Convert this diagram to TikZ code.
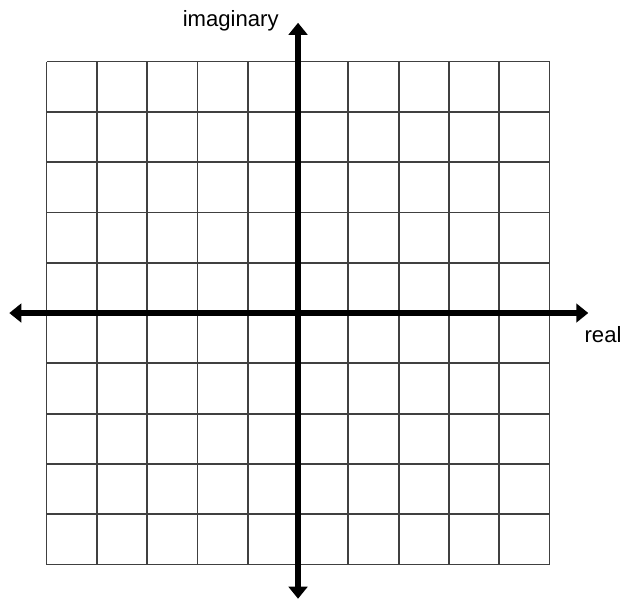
\documentclass[tikz,border=0pt]{standalone}
\usepackage{fontspec}
\setmainfont{Liberation Sans}
\usetikzlibrary{arrows.meta}

\begin{document}
\begin{tikzpicture}[
  gridline/.style={draw=black!75, line width=1pt},
  axis/.style={line width=3pt, {Triangle[length=6.8pt, width=10.5pt]}-{Triangle[length=6.8pt, width=10.5pt]}},
  axislabel/.style={font=\fontsize{12.5}{15}\selectfont, inner sep=0pt}
]
\useasboundingbox (-5.925,-5.706) rectangle (6.42,6.223);

% Grid
\draw[gridline] (-5,-5) grid (5,5);

% Axes
\coordinate (west) at (-5.74,0);
\coordinate (east) at (5.77,0);
\coordinate (north) at (0,5.77);
\coordinate (south) at (0,-5.68);
\draw[axis] (west) -- (east);
\draw[axis] (south) -- (north);

% Labels
\node[axislabel, anchor=base east] (imag) at (-0.38,5.69) {imaginary};
\node[axislabel, anchor=base west] (real) at (5.69,-0.58) {real};

\end{tikzpicture}
\end{document}
